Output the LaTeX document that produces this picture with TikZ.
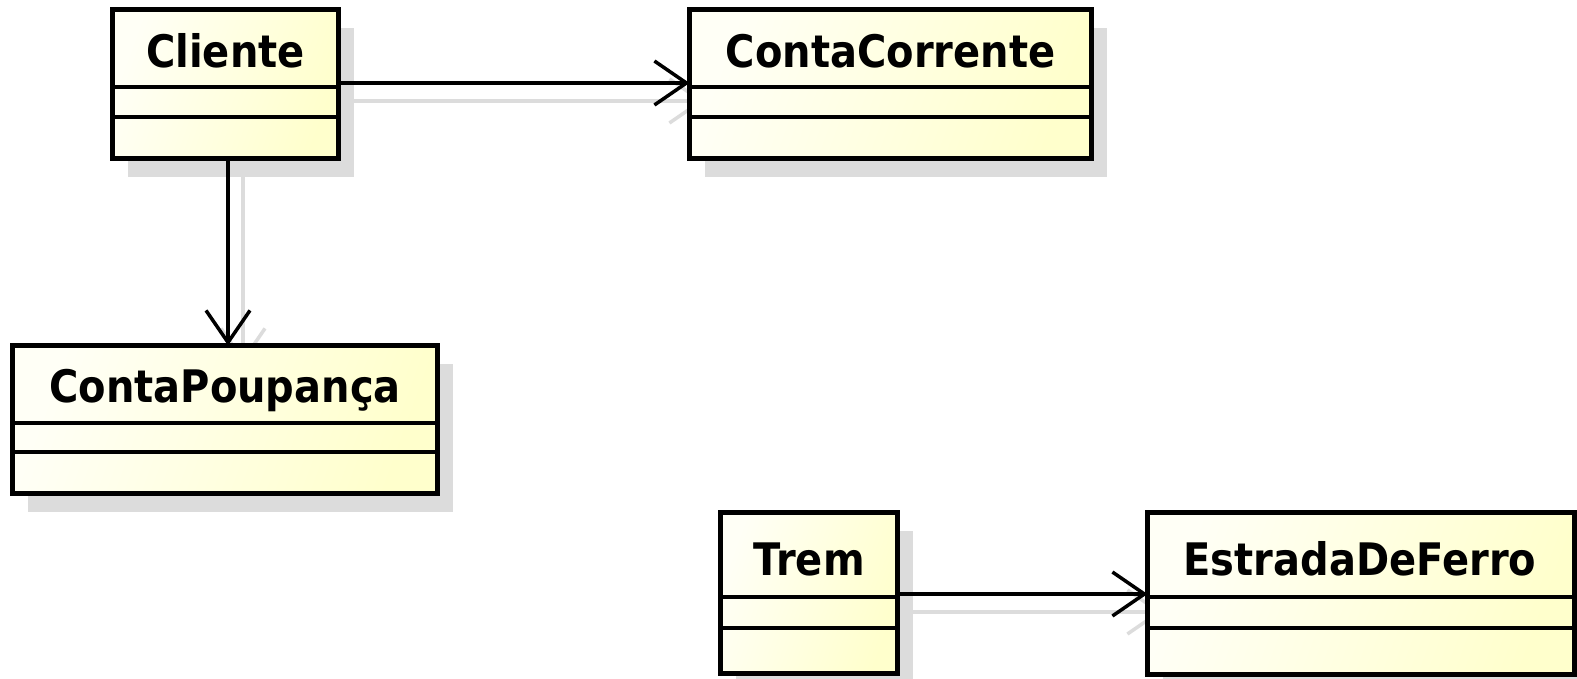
\documentclass[tikz,border=0pt]{standalone}
\usepackage{fontspec}
\setmainfont{DejaVu Sans}
\usetikzlibrary{arrows.meta,shadows,calc}
\pgfdeclarelayer{background}
\pgfsetlayers{background,main}
\definecolor{ylA}{HTML}{FFFFF6}
\definecolor{ylB}{HTML}{FFFFCC}
\definecolor{shadowc}{HTML}{DCDCDC}
\tikzset{
  classbox/.style={rectangle, draw=black, line width=5pt, inner sep=0pt, outer sep=0pt,
    left color=ylA, right color=ylB, shading angle=70,
    general shadow={fill=shadowc, shadow xshift=15pt, shadow yshift=-18pt}},
  divider/.style={line width=3.5pt},
  classname/.style={anchor=base, inner sep=0pt, yscale=1.12, transform shape,
    font=\fontsize{40}{48}\selectfont\bfseries},
  assoc/.style={line width=3.5pt, -{Straight Barb[length=32pt,width=44pt,line width=3.5pt]}},
  assocshadow/.style={line width=3.5pt, draw=shadowc, -{Straight Barb[length=32pt,width=44pt,line width=3.5pt]},
    transform canvas={shift={(15pt,-18pt)}}}
}
\begin{document}
\begin{tikzpicture}[x=1pt,y=-1pt]
\useasboundingbox (0,0) rectangle (1577,678);
\begin{pgfonlayer}{background}
\fill[white] (0,0) rectangle (1577,678);
\end{pgfonlayer}

% Cliente
\node[classbox, minimum width=226pt, minimum height=149pt] (cliente) at (225.5,84) {};
\draw[divider] (cliente.west |- 0,87) -- (cliente.east |- 0,87);
\draw[divider] (cliente.west |- 0,117) -- (cliente.east |- 0,117);
\node[classname] (clienteT) at (225.5,67) {Cliente};

% ContaCorrente
\node[classbox, minimum width=402pt, minimum height=149pt] (corrente) at (890.5,84) {};
\draw[divider] (corrente.west |- 0,87) -- (corrente.east |- 0,87);
\draw[divider] (corrente.west |- 0,117) -- (corrente.east |- 0,117);
\node[classname] (correnteT) at (890.5,67) {ContaCorrente};

% ContaPoupanca
\node[classbox, minimum width=425pt, minimum height=148pt] (poupanca) at (225,419.5) {};
\draw[divider] (poupanca.west |- 0,423) -- (poupanca.east |- 0,423);
\draw[divider] (poupanca.west |- 0,452) -- (poupanca.east |- 0,452);
\node[classname] (poupancaT) at (225,402) {ContaPoupança};

% Trem
\node[classbox, minimum width=177pt, minimum height=161pt] (trem) at (809,593) {};
\draw[divider] (trem.west |- 0,597) -- (trem.east |- 0,597);
\draw[divider] (trem.west |- 0,628) -- (trem.east |- 0,628);
\node[classname] (tremT) at (809,575) {Trem};

% EstradaDeFerro
\node[classbox, minimum width=427pt, minimum height=162pt] (estrada) at (1361,593.5) {};
\draw[divider] (estrada.west |- 0,597) -- (estrada.east |- 0,597);
\draw[divider] (estrada.west |- 0,628) -- (estrada.east |- 0,628);
\node[classname] (estradaT) at (1360,575) {EstradaDeFerro};

% connector shadows
\begin{pgfonlayer}{background}
\draw[assocshadow] (cliente.east |- 0,83) -- (corrente.west |- 0,83);
\draw[assocshadow] (228,0 |- cliente.south) -- (228,0 |- poupanca.north);
\draw[assocshadow] (trem.east |- 0,594) -- (estrada.west |- 0,594);
\end{pgfonlayer}

% connectors
\draw[assoc] (cliente.east |- 0,83) -- (corrente.west |- 0,83);
\draw[assoc] (228,0 |- cliente.south) -- (228,0 |- poupanca.north);
\draw[assoc] (trem.east |- 0,594) -- (estrada.west |- 0,594);
\end{tikzpicture}
\end{document}
